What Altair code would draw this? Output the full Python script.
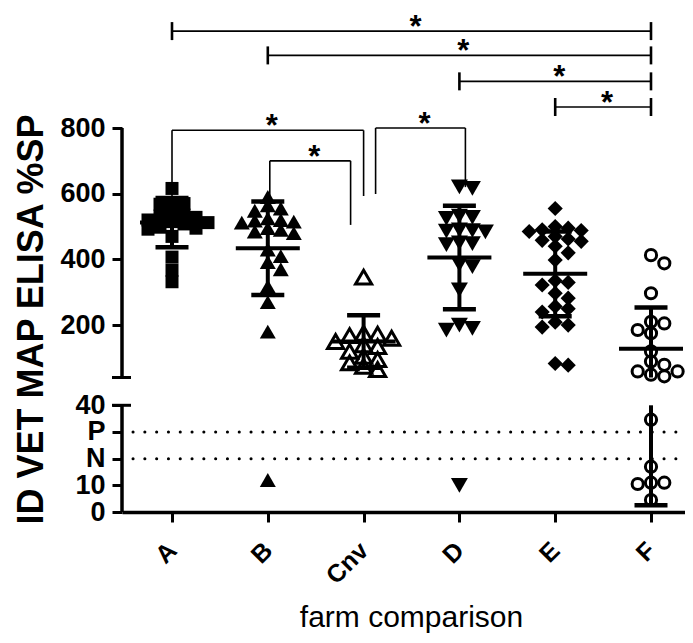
import altair as alt
import pandas as pd

# ---------------- data ----------------
groups = ["A", "B", "Cnv", "D", "E", "F"]

vals_A = [616, 572, 570, 568, 540, 535, 532, 528, 520, 515, 512, 508, 498, 495, 492, 470, 407, 367, 332]
vals_B = [590, 565, 555, 548, 525, 520, 518, 515, 512, 495, 490, 485, 480, 430, 410, 392, 370, 318, 270, 180, 12]
vals_Cnv = [346, 175, 172, 168, 160, 150, 140, 135, 120, 105, 95, 85, 75, 65]
vals_D = [621, 616, 532, 528, 525, 490, 488, 486, 484, 450, 448, 445, 385, 378, 307, 200, 190, 185, 10]
vals_E = [555, 500, 495, 490, 488, 485, 470, 462, 458, 455, 440, 420, 398, 335, 330, 322, 297, 282,
          257, 250, 240, 209, 200, 194, 83, 78]
vals_F = [413, 388, 297, 210, 205, 185, 175, 120, 89, 79, 59, 59, 49, 44, 34.6, 17, 11, 11, 10.5, 4.5]

means = [512, 434, 150, 406, 356, 128]
sds = [75, 142.5, 80, 157.5, 129, 125.5]

cut_names = ["P", "N"]
cut_values = [30, 20]

top_from = ["A", "B", "D", "E"]
top_to = ["F", "F", "F", "F"]
top_level = [1095, 1021, 942, 864]

cnv_from = ["A", "B", "Cnv"]
cnv_to = ["Cnv", "Cnv", "D"]
cnv_level = [793, 700, 800]
cnv_left_end = [593, 578, 599]
cnv_right_end = [593, 505, 620]

# ---------------- layout constants ----------------
W, H = 563, 504
STEP = 95.8
X0 = 50
LOWER_MAX = 40
UPPER_MIN = 40.5
YTOP = 1165.3
Y_RANGE = [504, 397.3, 369.5, 0]
UP = 0.3285          # px per unit, upper segment
LOW = 106.7 / 40     # px per unit, lower segment
FONT = "Liberation Sans"

xs = alt.Scale(domain=[-X0 / STEP, (W - X0) / STEP], nice=False, zero=False)
ys = alt.Scale(domain=[0, LOWER_MAX, UPPER_MIN, YTOP], range=Y_RANGE, nice=False, zero=False)

xaxis = alt.Axis(values=[0, 1, 2, 3, 4, 5],
                 labelExpr="%s[round(datum.value)]" % str(groups),
                 grid=False, domainWidth=3.5, domainColor="black",
                 tickSize=10, tickWidth=3, tickColor="black",
                 labelAngle=-45, labelAlign="right", labelBaseline="middle",
                 labelPadding=24, labelFont=FONT, labelFontWeight="bold",
                 labelFontSize=25, labelColor="black",
                 title="farm comparison", titleFont=FONT, titleFontWeight="normal",
                 titleFontSize=30, titleColor="black", titleX=289, titleY=114,
                 titleBaseline="alphabetic", titleAlign="center")

yaxis = alt.Axis(values=[0, 10, 20, 30, 40, 200, 400, 600, 800],
                 labelExpr="datum.value==30?'P':(datum.value==20?'N':datum.label)",
                 grid=False, domain=False, tickSize=10, tickWidth=3, tickColor="black",
                 labelPadding=7, labelFont=FONT, labelFontWeight="bold",
                 labelFontSize=27, labelColor="black", labelOverlap=False,
                 title="ID VET MAP ELISA %SP", titleFont=FONT, titleFontWeight="bold",
                 titleFontSize=36, titleColor="black", titleAngle=-90,
                 titleX=-80, titleY=311, titleBaseline="alphabetic", titleAlign="center")


def X(f):
    return alt.X(f, type="quantitative", scale=xs, axis=xaxis)


def Y(f):
    return alt.Y(f, type="quantitative", scale=ys, axis=yaxis)


def ypx(v):
    if v <= LOWER_MAX:
        return 504 - v * LOW
    return 369.5 - (v - UPPER_MIN) * UP


def swarm(vals, d, dy):
    placed = []
    res = [0.0] * len(vals)
    order = sorted(range(len(vals)), key=lambda i: -vals[i])
    for i in order:
        y = ypx(vals[i])
        for k in [0, 1, -1, 2, -2, 3, -3, 4, -4, 5, -5]:
            if all(not (c == k and abs(yy - y) < dy) for c, yy in placed):
                break
        placed.append((k, y))
        res[i] = k * d
    return res


styles = {
    "A": dict(shape="square", filled=True, size=169, d=12, dy=8),
    "B": dict(shape="triangle-up", filled=True, size=256, d=13, dy=8),
    "Cnv": dict(shape="triangle-up", filled=False, size=260, d=14, dy=9),
    "D": dict(shape="triangle-down", filled=True, size=289, d=13, dy=8),
    "E": dict(shape="diamond", filled=True, size=230, d=13, dy=8),
    "F": dict(shape="circle", filled=False, size=125, d=13.3, dy=10),
}
all_vals = [vals_A, vals_B, vals_Cnv, vals_D, vals_E, vals_F]

layers = []

# axis line pieces and break caps
axis_df = pd.DataFrame({"y": [0, UPPER_MIN], "y2": [LOWER_MAX, 800]})
layers.append(alt.Chart(axis_df).mark_rule(color="black", strokeWidth=3.5).encode(
    x=alt.value(0), y=Y("y"), y2="y2"))
caps_df = pd.DataFrame({"y": [LOWER_MAX, UPPER_MIN]})
layers.append(alt.Chart(caps_df).mark_rule(color="black", strokeWidth=3).encode(
    x=alt.value(-10), x2=alt.value(9), y=Y("y")))

# cut-off dotted lines
cut_df = pd.DataFrame({"name": cut_names, "v": cut_values})
layers.append(alt.Chart(cut_df).mark_rule(color="black", strokeWidth=3, strokeCap="round",
                                          strokeDash=[0.1, 11.7]).encode(
    x=alt.value(11), x2=alt.value(W), y=Y("v")))

# points
for gi, (g, vals) in enumerate(zip(groups, all_vals)):
    st = styles[g]
    offs = swarm(vals, st["d"], st["dy"])
    df = pd.DataFrame({"x": [gi + o / STEP for o in offs], "v": vals})
    if st["filled"]:
        mk = alt.Chart(df).mark_point(shape=st["shape"], filled=True, size=st["size"],
                                      color="black", opacity=1)
    else:
        mk = alt.Chart(df).mark_point(shape=st["shape"], filled=False, size=st["size"],
                                      color="black", strokeWidth=3, opacity=1)
    layers.append(mk.encode(x=X("x"), y=Y("v")))

# error bars (mean +/- SD), split at the axis break
vrows, caprows, meanrows = [], [], []
for i, (m, s) in enumerate(zip(means, sds)):
    lo, hi = m - s, m + s
    if hi > UPPER_MIN:
        vrows.append(dict(x=i, y=max(lo, UPPER_MIN), y2=hi))
    if lo < LOWER_MAX:
        vrows.append(dict(x=i, y=max(lo, 0), y2=min(hi, LOWER_MAX)))
    for v in (lo, hi):
        caprows.append(dict(x=i - 16.5 / STEP, x2=i + 16.5 / STEP, y=v))
    meanrows.append(dict(x=i - 32 / STEP, x2=i + 32 / STEP, y=m))

layers.append(alt.Chart(pd.DataFrame(vrows)).mark_rule(color="black", strokeWidth=4).encode(
    x=X("x"), y=Y("y"), y2="y2"))
layers.append(alt.Chart(pd.DataFrame(caprows)).mark_rule(color="black", strokeWidth=4.5).encode(
    x=X("x"), x2="x2", y=Y("y")))
layers.append(alt.Chart(pd.DataFrame(meanrows)).mark_rule(color="black", strokeWidth=4).encode(
    x=X("x"), x2="x2", y=Y("y")))

# significance brackets
gidx = {g: i for i, g in enumerate(groups)}
thin, thick, stars = [], [], []
half = 9 / UP
for a, b, lv in zip(top_from, top_to, top_level):
    xa, xb = gidx[a], gidx[b]
    thin.append(dict(x=xa, x2=xb, y=lv, y2=lv))
    thick.append(dict(x=xa, x2=xa, y=lv - half, y2=lv + half))
    thick.append(dict(x=xb, x2=xb, y=lv - half, y2=lv + half))
    stars.append(dict(x=(xa + xb) / 2, y=lv))

leg_shift = [(0, 0), (2, -13), (12, 6)]
for (a, b, lv, le, re), (sl, sr) in zip(zip(cnv_from, cnv_to, cnv_level, cnv_left_end, cnv_right_end), leg_shift):
    xa = gidx[a] + sl / STEP
    xb = gidx[b] + sr / STEP
    thin.append(dict(x=xa, x2=xb, y=lv, y2=lv))
    thin.append(dict(x=xa, x2=xa, y=le, y2=lv))
    thin.append(dict(x=xb, x2=xb, y=re, y2=lv))
    stars.append(dict(x=(xa + xb) / 2, y=lv))

layers.append(alt.Chart(pd.DataFrame(thin)).mark_rule(color="black", strokeWidth=1.6).encode(
    x=X("x"), x2="x2", y=Y("y"), y2="y2"))
layers.append(alt.Chart(pd.DataFrame(thick)).mark_rule(color="black", strokeWidth=2.6).encode(
    x=X("x"), x2="x2", y=Y("y"), y2="y2"))
layers.append(alt.Chart(pd.DataFrame(stars)).mark_text(
    text="*", font=FONT, fontWeight="bold", fontSize=31, color="black",
    align="center", baseline="alphabetic", dx=4, dy=6).encode(x=X("x"), y=Y("y")))

chart = alt.layer(*layers).properties(
    width=W, height=H,
    padding={"left": 114, "top": 0, "right": 0, "bottom": 123},
    autosize=alt.AutoSizeParams(type="none"),
    background="white",
).configure_view(stroke=None)

chart.save("out.html", embed_options={"renderer": "svg", "actions": False})
